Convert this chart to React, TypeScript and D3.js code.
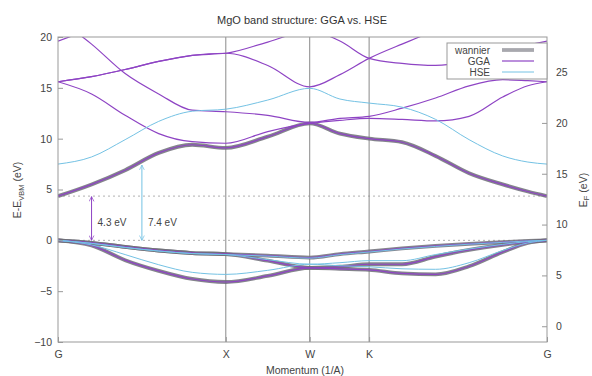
import { useEffect, useRef } from "react";
import * as d3 from "d3";

// k-path in 2pi/a units, G-X-W-K-G
const kPath = [0, 0.2, 0.4, 0.6, 0.8, 1.0, 1.25, 1.5, 1.68, 1.854, 2.05, 2.25, 2.45, 2.65, 2.8, 2.914];
const kNodes = [0, 1.0, 1.5, 1.854, 2.914];
const kLabels = ["G", "X", "W", "K", "G"];

const yTicks = [-10, -5, 0, 5, 10, 15, 20];
const y2Ticks = [0, 5, 10, 15, 20, 25];
const efOffset = 8.45;

// GGA bands (eV, relative to VBM)
const ggaVb1 = [0, -0.25, -0.65, -1.0, -1.25, -1.35, -1.5, -1.7, -1.35, -1.1, -0.8, -0.55, -0.35, -0.18, -0.06, 0];
const ggaVb2 = [0, -0.25, -0.65, -1.0, -1.25, -1.35, -2.0, -2.7, -2.6, -2.35, -2.35, -1.6, -0.95, -0.45, -0.15, 0];
const ggaVb3 = [0, -0.5, -1.95, -3.0, -3.8, -4.1, -3.5, -2.7, -2.8, -2.9, -3.25, -3.35, -2.55, -1.15, -0.25, 0];
const ggaCb1 = [4.35, 5.5, 6.9, 8.6, 9.4, 9.1, 10.2, 11.5, 10.5, 10.0, 9.65, 8.3, 6.6, 5.5, 4.8, 4.35];
const ggaCb2 = [15.6, 14.4, 12.3, 10.5, 9.7, 9.55, 10.7, 11.5, 11.8, 12.0, 11.9, 11.75, 12.2, 14.1, 15.2, 15.6];
const ggaCb3 = [15.6, 16.1, 16.8, 17.6, 18.2, 18.4, 19.5, 20.6, 19.6, 17.9, 17.4, 17.2, 17.6, 18.4, 19.2, 19.6];
const ggaCb4 = [21.8, 19.3, 16.4, 14.4, 12.8, 12.65, 12.3, 11.6, 12.0, 12.2, 13.0, 14.0, 15.2, 15.8, 15.7, 15.6];
const ggaCb5 = [15.6, 16.1, 16.8, 17.6, 18.2, 18.4, 17.2, 15.1, 16.3, 17.9, 19.3, 20.6, 21.4, 21.8, 22.0, 22.0];
const ggaCb6 = [19.6, 20.8, 22.0, 23.0, 23.5, 23.6, 23.6, 23.6, 23.6, 23.6, 23.6, 23.6, 23.6, 23.6, 23.6, 23.6];

// HSE bands
const hseVb1 = [0, -0.3, -0.7, -1.05, -1.3, -1.4, -1.55, -1.75, -1.4, -1.15, -0.85, -0.6, -0.38, -0.2, -0.06, 0];
const hseVb2 = [0, -0.3, -0.7, -1.05, -1.3, -1.4, -1.9, -2.35, -2.2, -2.0, -2.0, -1.4, -0.85, -0.4, -0.12, 0];
const hseVb3 = [0, -0.45, -1.4, -2.4, -3.15, -3.35, -2.95, -2.35, -2.5, -2.6, -2.8, -2.85, -2.2, -1.0, -0.25, 0];
const hseCb1 = [7.5, 8.2, 9.9, 11.7, 12.7, 12.9, 13.8, 14.95, 13.9, 13.5, 13.1, 11.9, 9.9, 8.3, 7.7, 7.5];

// Wannier-interpolated bands (coincide with GGA)
const wannierBands = [ggaVb1, ggaVb2, ggaVb3, ggaCb1];
const ggaBands = [ggaVb1, ggaVb2, ggaVb3, ggaCb1, ggaCb2, ggaCb3, ggaCb4, ggaCb5, ggaCb6];
const hseBands = [hseVb1, hseVb2, hseVb3, hseCb1];

const gapValues = [4.3, 7.4];
const gapK = [0.2, 0.5];
const gapLabels = ["4.3 eV", "7.4 eV"];
const refLevels = [0, 4.35];
const legendLabels = ["wannier", "GGA", "HSE"];

const colWannier = "#6e6e78";
const colGGA = "#8e44c4";
const colHSE = "#74c2e4";

export default function App() {
  const svgRef = useRef<SVGSVGElement>(null);

  useEffect(() => {
    if (!svgRef.current) return;
    const width = 592;
    const height = 376;
    const margin = { top: 37, right: 45, bottom: 34, left: 58 };
    const font = "'Liberation Sans', Arial, sans-serif";

    const svg = d3.select(svgRef.current).attr("width", width).attr("height", height);
    svg.selectAll("*").remove();

    const innerWidth = width - margin.left - margin.right;
    const innerHeight = height - margin.top - margin.bottom;

    const x = d3.scaleLinear().domain([0, 2.914]).range([0, innerWidth]);
    const y = d3.scaleLinear().domain([-10, 20]).range([innerHeight, 0]);
    const y2 = d3.scaleLinear().domain([-10 + efOffset, 20 + efOffset]).range([innerHeight, 0]);

    svg.append("rect").attr("width", width).attr("height", height).attr("fill", "#fff");

    // title
    svg
      .append("text")
      .attr("x", 302)
      .attr("y", 24)
      .attr("text-anchor", "middle")
      .attr("font-family", font)
      .attr("font-size", 11)
      .attr("fill", "#333")
      .text("MgO band structure: GGA vs. HSE");

    const g = svg.append("g").attr("transform", `translate(${margin.left},${margin.top})`);

    g.append("defs")
      .append("clipPath")
      .attr("id", "plot-clip")
      .append("rect")
      .attr("width", innerWidth)
      .attr("height", innerHeight);

    // reference levels (dotted)
    g.selectAll("line.ref")
      .data(refLevels)
      .join("line")
      .attr("class", "ref")
      .attr("x1", 0)
      .attr("x2", innerWidth)
      .attr("y1", (d) => y(d))
      .attr("y2", (d) => y(d))
      .attr("stroke", "#b0b0b0")
      .attr("stroke-width", 1)
      .attr("stroke-dasharray", "2,3");

    // high-symmetry verticals
    g.selectAll("line.kline")
      .data(kNodes.slice(1, -1))
      .join("line")
      .attr("class", "kline")
      .attr("x1", (d) => x(d))
      .attr("x2", (d) => x(d))
      .attr("y1", 0)
      .attr("y2", innerHeight)
      .attr("stroke", "#8a8a8a")
      .attr("stroke-width", 1);

    const line = d3
      .line<number>()
      .x((_, i) => x(kPath[i]))
      .y((d) => y(d))
      .curve(d3.curveMonotoneX);

    const bands = g.append("g").attr("clip-path", "url(#plot-clip)");

    bands
      .selectAll("path.wan")
      .data(wannierBands)
      .join("path")
      .attr("class", "wan")
      .attr("d", (d) => line(d))
      .attr("fill", "none")
      .attr("stroke", colWannier)
      .attr("stroke-width", 3.8)
      .attr("stroke-opacity", 0.85);

    bands
      .selectAll("path.gga")
      .data(ggaBands)
      .join("path")
      .attr("class", "gga")
      .attr("d", (d) => line(d))
      .attr("fill", "none")
      .attr("stroke", colGGA)
      .attr("stroke-width", 1.2);

    bands
      .selectAll("path.hse")
      .data(hseBands)
      .join("path")
      .attr("class", "hse")
      .attr("d", (d) => line(d))
      .attr("fill", "none")
      .attr("stroke", colHSE)
      .attr("stroke-width", 1);

    // gap arrows
    const defs = svg.append("defs");
    const arrowCols = [colGGA, colHSE];
    arrowCols.forEach((c, i) => {
      defs
        .append("marker")
        .attr("id", `head${i}`)
        .attr("viewBox", "0 0 10 10")
        .attr("refX", 9)
        .attr("refY", 5)
        .attr("markerWidth", 6)
        .attr("markerHeight", 6)
        .attr("orient", "auto-start-reverse")
        .append("path")
        .attr("d", "M1,1 L9,5 L1,9")
        .attr("fill", "none")
        .attr("stroke", c)
        .attr("stroke-width", 1.2);
    });

    gapValues.forEach((v, i) => {
      g.append("line")
        .attr("x1", x(gapK[i]))
        .attr("x2", x(gapK[i]))
        .attr("y1", y(0))
        .attr("y2", y(v))
        .attr("stroke", arrowCols[i])
        .attr("stroke-width", 1)
        .attr("marker-start", `url(#head${i})`)
        .attr("marker-end", `url(#head${i})`);
      g.append("text")
        .attr("x", x(gapK[i]) + 6)
        .attr("y", y(1.4))
        .attr("font-family", font)
        .attr("font-size", 10)
        .attr("fill", "#444")
        .text(gapLabels[i]);
    });

    // frame
    g.append("rect")
      .attr("width", innerWidth)
      .attr("height", innerHeight)
      .attr("fill", "none")
      .attr("stroke", "#999")
      .attr("stroke-width", 1);

    const styleAxis = (a: d3.Selection<SVGGElement, unknown, null, undefined>) => {
      a.select(".domain").remove();
      a.selectAll(".tick line").attr("stroke", "#999");
      a.selectAll(".tick text").attr("fill", "#444").attr("font-size", 10.5).attr("font-family", font);
    };

    g.append("g")
      .call(d3.axisLeft(y).tickValues(yTicks).tickSize(-5).tickPadding(6))
      .call(styleAxis);

    g.append("g")
      .attr("transform", `translate(${innerWidth},0)`)
      .call(d3.axisRight(y2).tickValues(y2Ticks).tickSize(-5).tickPadding(9))
      .call(styleAxis);

    g.append("g")
      .attr("transform", `translate(0,${innerHeight})`)
      .call(
        d3
          .axisBottom(x)
          .tickValues(kNodes)
          .tickFormat((_, i) => kLabels[i])
          .tickSize(-5)
          .tickPadding(8.5)
      )
      .call(styleAxis);

    // axis labels
    const yl = svg
      .append("text")
      .attr("transform", "translate(21,190) rotate(-90)")
      .attr("text-anchor", "middle")
      .attr("font-family", font)
      .attr("font-size", 10.5)
      .attr("fill", "#444");
    yl.append("tspan").text("E-E");
    yl.append("tspan").attr("font-size", 7.5).attr("dy", 2.5).text("VBM");
    yl.append("tspan").attr("dy", -2.5).text(" (eV)");

    const y2l = svg
      .append("text")
      .attr("transform", "translate(587,190) rotate(-90)")
      .attr("text-anchor", "middle")
      .attr("font-family", font)
      .attr("font-size", 10.5)
      .attr("fill", "#444");
    y2l.append("tspan").text("E");
    y2l.append("tspan").attr("font-size", 7.5).attr("dy", 2).text("F");
    y2l.append("tspan").attr("dy", -2).text(" (eV)");

    svg
      .append("text")
      .attr("x", 305)
      .attr("y", 374)
      .attr("text-anchor", "middle")
      .attr("font-family", font)
      .attr("font-size", 10.5)
      .attr("fill", "#444")
      .text("Momentum (1/A)");

    // legend
    const lg = g.append("g").attr("transform", `translate(${innerWidth - 100},6)`);
    lg.append("rect")
      .attr("width", 100)
      .attr("height", 36)
      .attr("fill", "#fff")
      .attr("stroke", "#999")
      .attr("stroke-width", 1);
    const legendStyles = [
      { c: colWannier, w: 3.8, o: 0.6 },
      { c: colGGA, w: 1.2, o: 1 },
      { c: colHSE, w: 1, o: 1 },
    ];
    legendLabels.forEach((lab, i) => {
      const yy = 7 + i * 11;
      lg.append("text")
        .attr("x", 43)
        .attr("y", yy)
        .attr("dy", "0.35em")
        .attr("text-anchor", "end")
        .attr("font-family", font)
        .attr("font-size", 10)
        .attr("fill", "#444")
        .text(lab);
      lg.append("line")
        .attr("x1", 55)
        .attr("x2", 87)
        .attr("y1", yy)
        .attr("y2", yy)
        .attr("stroke", legendStyles[i].c)
        .attr("stroke-width", legendStyles[i].w)
        .attr("stroke-opacity", legendStyles[i].o);
    });
  }, []);

  return <svg ref={svgRef} style={{ position: "absolute", left: 0, top: 0 }} />;
}
